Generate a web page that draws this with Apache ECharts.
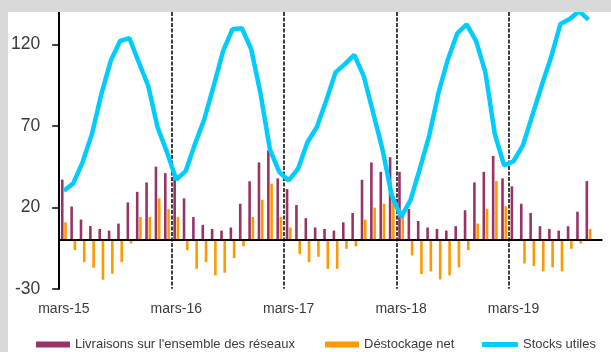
<!DOCTYPE html>
<html>
<head>
<meta charset="utf-8">
<script src="https://cdn.jsdelivr.net/npm/echarts@6/dist/echarts.min.js"></script>
<style>
  html, body { margin: 0; padding: 0; width: 611px; height: 352px; overflow: hidden; background: #d9d9d9; }
  #chart { position: absolute; left: 8px; top: 12px; width: 603px; height: 340px; background: #ffffff; }
</style>
</head>
<body>
<div id="chart"></div>
<script>
// Monthly categories, March 2015 to December 2019
const months = [
  'mars-15', 'avr.-15', 'mai-15', 'juin-15', 'juil.-15', 'août-15', 'sept.-15', 'oct.-15', 'nov.-15', 'déc.-15',
  'janv.-16', 'févr.-16', 'mars-16', 'avr.-16', 'mai-16', 'juin-16', 'juil.-16', 'août-16', 'sept.-16', 'oct.-16', 'nov.-16', 'déc.-16',
  'janv.-17', 'févr.-17', 'mars-17', 'avr.-17', 'mai-17', 'juin-17', 'juil.-17', 'août-17', 'sept.-17', 'oct.-17', 'nov.-17', 'déc.-17',
  'janv.-18', 'févr.-18', 'mars-18', 'avr.-18', 'mai-18', 'juin-18', 'juil.-18', 'août-18', 'sept.-18', 'oct.-18', 'nov.-18', 'déc.-18',
  'janv.-19', 'févr.-19', 'mars-19', 'avr.-19', 'mai-19', 'juin-19', 'juil.-19', 'août-19', 'sept.-19', 'oct.-19', 'nov.-19', 'déc.-19'
];

// Deliveries across all networks
const livraisons = [
  37, 20.5, 12.5, 8.5, 6.7, 5.7, 10, 23, 29.5, 35.3,
  45, 41, 40, 25.5, 14, 9.2, 6.7, 5.7, 7.6, 22.2, 36, 47.6,
  55, 37.8, 31.2, 21.4, 13.3, 7.6, 6.7, 5.7, 10.8, 16.5, 36.9, 47.6,
  41.8, 50.8, 41.8, 19, 11.6, 7.6, 6.7, 5.7, 8.4, 18.2, 35.3, 41.8,
  51.6, 37.8, 32.9, 22.2, 16.5, 8.4, 6.7, 5.7, 8.4, 17.3, 36.1
];

// Net withdrawal from storage (negative = injection)
const destockage = [
  10.8, -6.3, -13.7, -17.1, -24.5, -20.8, -13.7, -2.2, 14.1, 14.1,
  25.5, 18.8, 14.1, -6.3, -17.8, -13.7, -21.8, -20.2, -11.2, -3.9, 14.1, 24.7,
  34.5, 14.1, 7.6, -8.8, -13.7, -10.4, -17.8, -17.8, -5.5, -3.9, 12.4, 19.8,
  22.2, 26.3, 18.2, -9.6, -21, -19.4, -24.3, -21.8, -16.9, -6.3, 10, 19,
  36.1, 20.6, -0.8, -14.5, -16.1, -19.4, -16.9, -19.4, -5.5, -2.2, 6.7
];

// Working gas in storage
const stocks = [
  30.2, 34.7, 47.8, 65.1, 89.6, 110, 122.2, 123.9, 109, 94.7,
  69.2, 53.9, 37.1, 42.2, 59, 74.3, 94.7, 116.1, 129.4, 130, 117.1, 89.6,
  55.5, 41.6, 36.5, 43.7, 60, 69.2, 85.5, 102.9, 108, 113.7, 100.8, 78.4,
  55.9, 27.3, 14.1, 24.3, 43.7, 64.1, 90.6, 111, 126.9, 132.4, 122.2, 102.9,
  65.1, 45.7, 48.3, 58, 76.3, 94.7, 112, 132.6, 135.7, 140.5, 135.3
];

const yTicks = [-30, 20, 70, 120];

const seriesNames = ["Livraisons sur l'ensemble des réseaux", 'Déstockage net', 'Stocks utiles'];

const FONT = '"Liberation Sans", Arial, sans-serif';
const TEXT = '#3a3a3a';

const chart = echarts.init(document.getElementById('chart'), null, { renderer: 'canvas' });

const legendBase = {
  top: 326,
  padding: 0,
  itemGap: 0,
  textStyle: { fontFamily: FONT, fontSize: 13, color: TEXT },
  selectedMode: false
};

chart.setOption({
  animation: false,
  backgroundColor: '#ffffff',
  grid: { left: 50, right: 8.5, top: 0, bottom: 63.3, containLabel: false },
  legend: [
    Object.assign({}, legendBase, { left: 28, data: [seriesNames[0]], icon: 'rect', itemWidth: 34, itemHeight: 6 }),
    Object.assign({}, legendBase, { left: 317, data: [seriesNames[1]], icon: 'rect', itemWidth: 34, itemHeight: 6 }),
    Object.assign({}, legendBase, { left: 474, data: [seriesNames[2]], icon: 'roundRect', itemWidth: 36, itemHeight: 5 })
  ],
  xAxis: {
    type: 'category',
    data: months,
    boundaryGap: true,
    axisLine: { show: false, onZero: false },
    axisTick: { show: false },
    axisLabel: {
      interval: 11,
      margin: 13,
      fontFamily: FONT,
      fontSize: 14,
      color: TEXT
    },
    splitLine: {
      show: true,
      interval: 11,
      showMinLine: false,
      showMaxLine: false,
      lineStyle: { color: '#000000', width: 1.5, type: [4, 1.5] }
    }
  },
  yAxis: {
    type: 'value',
    min: -30,
    max: 140,
    interval: 50,
    axisLine: { show: true, lineStyle: { color: '#000000', width: 2 } },
    axisTick: { show: true, length: 7, inside: false, customValues: yTicks, lineStyle: { color: '#000000', width: 1.5 } },
    axisLabel: {
      customValues: yTicks,
      margin: 19,
      fontFamily: FONT,
      fontSize: 17.5,
      color: TEXT
    },
    splitLine: { show: false }
  },
  series: [
    {
      name: seriesNames[0],
      type: 'bar',
      data: livraisons,
      barWidth: 2.6,
      barGap: '25%',
      itemStyle: { color: '#993366' },
      markLine: {
        silent: true,
        symbol: ['none', 'none'],
        label: { show: false },
        lineStyle: { color: '#000000', width: 2, type: 'solid' },
        data: [{ yAxis: 0 }]
      }
    },
    {
      name: seriesNames[1],
      type: 'bar',
      data: destockage,
      barWidth: 2.6,
      itemStyle: { color: '#ff9900' }
    },
    {
      name: seriesNames[2],
      type: 'line',
      data: stocks,
      symbol: 'none',
      showSymbol: false,
      z: 5,
      lineStyle: { color: '#00ccff', width: 4.5 },
      itemStyle: { color: '#00ccff' }
    }
  ]
});
</script>
</body>
</html>
